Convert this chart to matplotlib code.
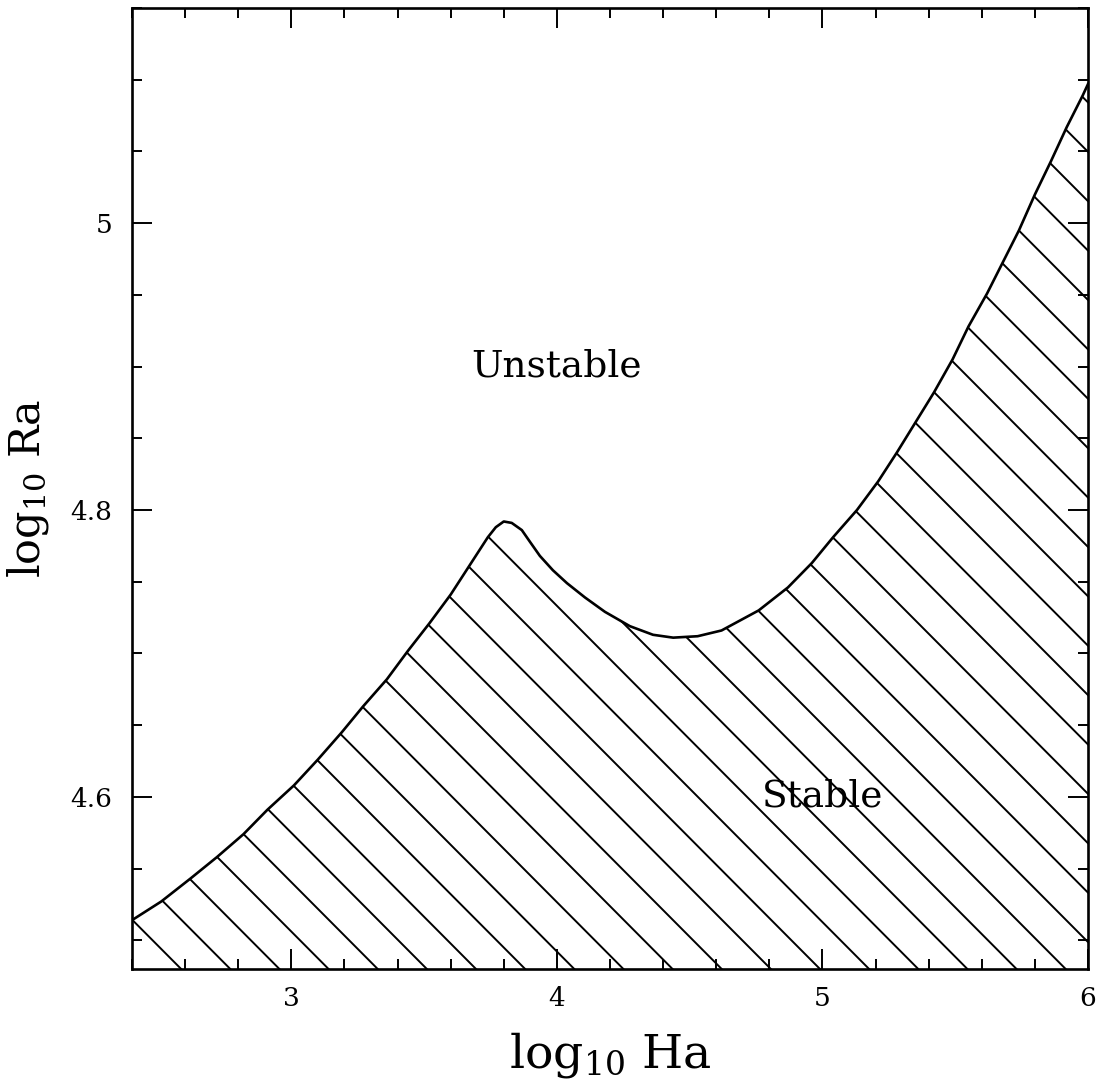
import matplotlib
matplotlib.use("Agg")
import matplotlib.pyplot as plt
from matplotlib.ticker import MultipleLocator

plt.rcParams['font.family'] = ['DejaVu Serif']
plt.rcParams['mathtext.fontset'] = 'dejavuserif'
plt.rcParams['mathtext.default'] = 'regular'

# Stability boundary (log10 Ha, log10 Ra)
log_ha = [2.40, 2.51, 2.62, 2.72, 2.82, 2.91, 3.01, 3.10, 3.19, 3.27,
          3.36, 3.44, 3.52, 3.60, 3.67, 3.74, 3.77, 3.80, 3.83, 3.868,
          3.898, 3.936, 3.985, 4.038, 4.106, 4.181, 4.275, 4.362, 4.438, 4.53,
          4.62, 4.76, 4.87, 4.96, 5.04, 5.13, 5.21, 5.28, 5.35, 5.42,
          5.49, 5.55, 5.62, 5.68, 5.74, 5.80, 5.86, 5.92, 5.98, 6.00]
log_ra = [4.514, 4.527, 4.543, 4.558, 4.574, 4.591, 4.608, 4.626, 4.645, 4.663,
          4.682, 4.702, 4.721, 4.741, 4.761, 4.781, 4.788, 4.792, 4.791, 4.786,
          4.778, 4.768, 4.758, 4.749, 4.739, 4.729, 4.719, 4.713, 4.711, 4.712,
          4.716, 4.730, 4.746, 4.763, 4.781, 4.800, 4.820, 4.840, 4.861, 4.882,
          4.905, 4.928, 4.951, 4.973, 4.995, 5.020, 5.043, 5.067, 5.089, 5.097]

region_labels = ["Unstable", "Stable"]
label_x = [4.0, 5.0]
label_y = [4.9, 4.6]

fig = plt.figure(figsize=(10.97, 10.87), dpi=100)
ax = fig.add_axes([0.1203, 0.1086, 0.8715, 0.884])

ax.set_xlim(2.4, 6.0)
ax.set_ylim(4.48, 5.15)

# region below the curve, used as clip path for the hatching
region = ax.fill_between(log_ha, log_ra, 4.3, facecolor='none', edgecolor='none')
clip = region.get_paths()[0]

spacing = 0.0514
for m in range(1, 42):
    c = m * spacing
    ln, = ax.plot([c - 1.5, c + 1.5], [1.5, -1.5], color='black', lw=1.4,
                  transform=ax.transAxes)
    ln.set_clip_path(clip, ax.transData)

ax.plot(log_ha, log_ra, color='black', lw=1.9, solid_joinstyle='round')

for txt, x, y in zip(region_labels, label_x, label_y):
    ax.text(x, y, txt, ha='center', va='center', fontsize=27)

ax.xaxis.set_minor_locator(MultipleLocator(0.2))
ax.yaxis.set_minor_locator(MultipleLocator(0.05))
ax.set_xticks([3, 4, 5, 6])
ax.set_yticks([4.6, 4.8, 5.0])
ax.set_yticklabels(['4.6', '4.8', '5'])

ax.tick_params(which='both', direction='in', top=True, right=True, width=1.4)
ax.tick_params(which='major', length=14.5, labelsize=19)
ax.tick_params(which='minor', length=7.5)
ax.tick_params(axis='x', which='major', pad=12)
ax.tick_params(axis='y', which='major', pad=14)
for s in ax.spines.values():
    s.set_linewidth(1.9)

ax.set_xlabel('log$_{10}$ Ha', fontsize=34, labelpad=14)
ax.set_ylabel('log$_{10}$ Ra', fontsize=31, labelpad=14)

fig.savefig('out.png', dpi=100)
